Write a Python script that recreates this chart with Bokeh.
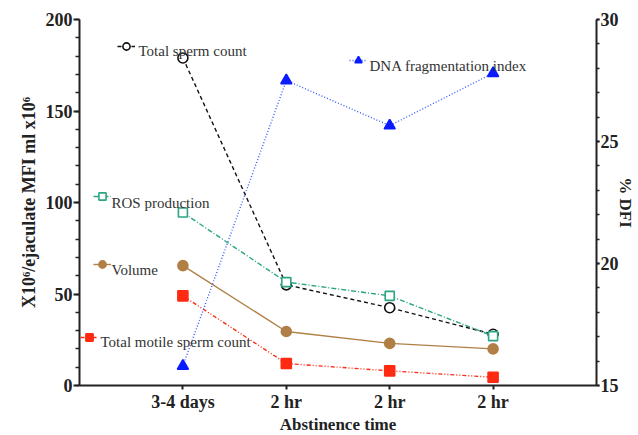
from bokeh.plotting import figure
from bokeh.models import (Range1d, LinearAxis, FixedTicker, SingleIntervalTicker,
                          Legend, LegendItem, Label)
from bokeh.embed import file_html
from bokeh.resources import INLINE

# ---- data ----
categories = ["3-4 days", "2 hr", "2 hr", "2 hr"]
total_sperm_count = [179, 55, 42.5, 28]
ros_production = [94.5, 56.5, 49, 27]
volume = [65.5, 29.5, 23, 20]
total_motile_count = [49, 12, 8, 4.5]
dna_fragmentation = [15.8, 27.5, 25.65, 27.8]

xs = list(range(1, len(categories) + 1))

FONT = "Liberation Serif"
DARK = "#222222"

p = figure(frame_width=517, frame_height=366, output_backend="svg",
           toolbar_location=None, x_range=Range1d(0, 5), y_range=Range1d(0, 200),
           min_border_left=79, min_border_top=19, min_border_right=2, min_border_bottom=2)
p.outline_line_color = None
p.xgrid.visible = False
p.ygrid.visible = False
p.background_fill_color = "white"

p.extra_y_ranges = {"dfi": Range1d(15, 30)}

xa = p.xaxis[0]
xa.ticker = FixedTicker(ticks=xs)
xa.major_label_overrides = {x: c for x, c in zip(xs, categories)}
xa.axis_label = "Abstinence time"

ya = p.yaxis[0]
ya.ticker = SingleIntervalTicker(interval=50, num_minor_ticks=5)
ya.axis_label = "X10\u2076/ejaculate MFI ml x10\u2076"

ra = LinearAxis(y_range_name="dfi", axis_label="% DFI",
                ticker=SingleIntervalTicker(interval=5, num_minor_ticks=5))
p.add_layout(ra, "right")

for ax in [xa, ya, ra]:
    ax.axis_line_width = 2
    ax.axis_line_color = DARK
    ax.major_tick_line_width = 2
    ax.major_tick_line_color = DARK
    ax.minor_tick_line_width = 1.5
    ax.minor_tick_line_color = DARK
    ax.major_tick_in = 0
    ax.major_tick_out = 6
    ax.minor_tick_in = 0
    ax.minor_tick_out = 4
    ax.major_label_text_font = FONT
    ax.major_label_text_font_style = "bold"
    ax.major_label_text_font_size = "18px"
    ax.major_label_text_color = DARK
    ax.major_label_standoff = 1
    ax.axis_label_text_font = FONT
    ax.axis_label_text_font_style = "bold"
    ax.axis_label_text_font_size = "17px"
    ax.axis_label_text_color = DARK
    ax.axis_label_standoff = 4

ya.axis_label_text_font_size = "18px"
xa.minor_tick_line_color = None
xa.major_tick_out = 4
xa.major_label_standoff = 2
xa.axis_label_standoff = 0
ra.major_tick_out = 3
ra.minor_tick_out = 3
ra.major_label_standoff = 1
ra.axis_label_standoff = -6


def series(y, color, dash, marker, fill, size, range_name="default", lc=None):
    kw = {} if range_name == "default" else {"y_range_name": range_name}
    ln = p.line(xs, y, line_color=lc or color, line_width=1.4, line_dash=dash, **kw)
    sc = p.scatter(xs, y, marker=marker, size=size, line_color=color, line_width=1.6,
                   fill_color=fill, **kw)
    return [ln, sc]

r_tsc = series(total_sperm_count, "#111111", "4 3", "circle", "white", 10)
r_ros = series(ros_production, "#2ca585", "5 2 1 2", "square", "white", 9)
r_vol = series(volume, "#b07f45", "solid", "circle", "#b07f45", 10)
r_mot = series(total_motile_count, "#ff2a12", "4 2 1 2 1 2", "square", "#ff2a12", 10)
r_dfi = series(dna_fragmentation, "#0a1cff", "1 2", "triangle", "#0a1cff", 11,
               range_name="dfi", lc="#3a5cff")

# in-plot keys: glyph box location, text start, text baseline (screen px in frame)
legend_specs = [
    ("Total sperm count", r_tsc, (38, 329), (59, 335)),
    ("DNA fragmentation index", r_dfi, (270, 315), (290, 320)),
    ("ROS production", r_ros, (14, 179), (32, 183)),
    ("Volume", r_vol, (14, 111), (32, 116)),
    ("Total motile sperm count", r_mot, (1, 38), (21, 44)),
]
for label, rends, loc, tpos in legend_specs:
    lg = Legend(items=[LegendItem(label=" ", renderers=rends)], location=loc,
                padding=0, margin=0, spacing=0, border_line_alpha=0,
                background_fill_alpha=0, glyph_width=18, glyph_height=20,
                label_height=20, label_width=1, label_standoff=0,
                label_text_font_size="2px")
    p.add_layout(lg, "center")
    p.add_layout(Label(x=tpos[0], y=tpos[1], x_units="screen", y_units="screen",
                       text=label, text_font=FONT, text_font_size="15px",
                       text_color="#333333", text_baseline="alphabetic"))

open("out.html", "w").write(file_html(p, INLINE))
